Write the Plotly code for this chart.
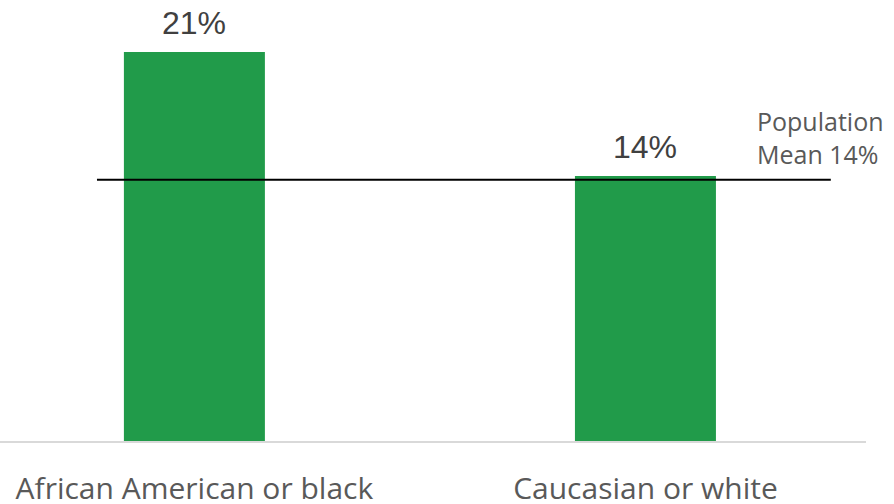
import plotly.graph_objects as go

# Share of each group, with the population-wide mean
categories = ["African American or black", "Caucasian or white"]
shares = [0.21, 0.143]
population_mean = 0.141

bar_color = "#219b4a"

fig = go.Figure()
fig.add_trace(go.Bar(
    x=categories,
    y=shares,
    width=0.3126,
    marker=dict(color=bar_color, line=dict(width=0)),
    hoverinfo="skip",
))

# Value labels above each bar
for cat, v in zip(categories, shares):
    fig.add_annotation(
        x=cat, y=v, xref="x", yref="y",
        text=f"{v:.0%}", showarrow=False,
        yanchor="bottom", yshift=9,
        font=dict(family="Liberation Sans, Arial", size=32, color="#404040"),
    )

# Population mean reference line
fig.add_shape(
    type="line", xref="x", yref="y",
    x0=-0.216, x1=1.411, y0=population_mean, y1=population_mean,
    line=dict(color="#000000", width=2),
)
fig.add_annotation(
    x=1.252, y=population_mean, xref="x", yref="y",
    xanchor="left", yanchor="bottom", align="left",
    text=f"Population<br>Mean {population_mean:.0%}",
    showarrow=False, xshift=-4, yshift=7,
    font=dict(family="Open Sans", size=25, color="#595959"),
)

fig.update_layout(
    width=894, height=504,
    margin=dict(l=0, r=28, t=0, b=63),
    paper_bgcolor="white", plot_bgcolor="white",
    showlegend=False,
    xaxis=dict(
        type="category",
        range=[-0.431, 1.489],
        automargin=False,
        showgrid=False, zeroline=False,
        showline=True, linecolor="#d9d9d9", linewidth=1.5,
        ticks="", ticklabelstandoff=20,
        tickfont=dict(family="Open Sans", size=30, color="#595959"),
    ),
    yaxis=dict(
        range=[0, 0.238],
        visible=False, showgrid=False, zeroline=False,
        automargin=False,
    ),
)

fig.write_html("out.html")
